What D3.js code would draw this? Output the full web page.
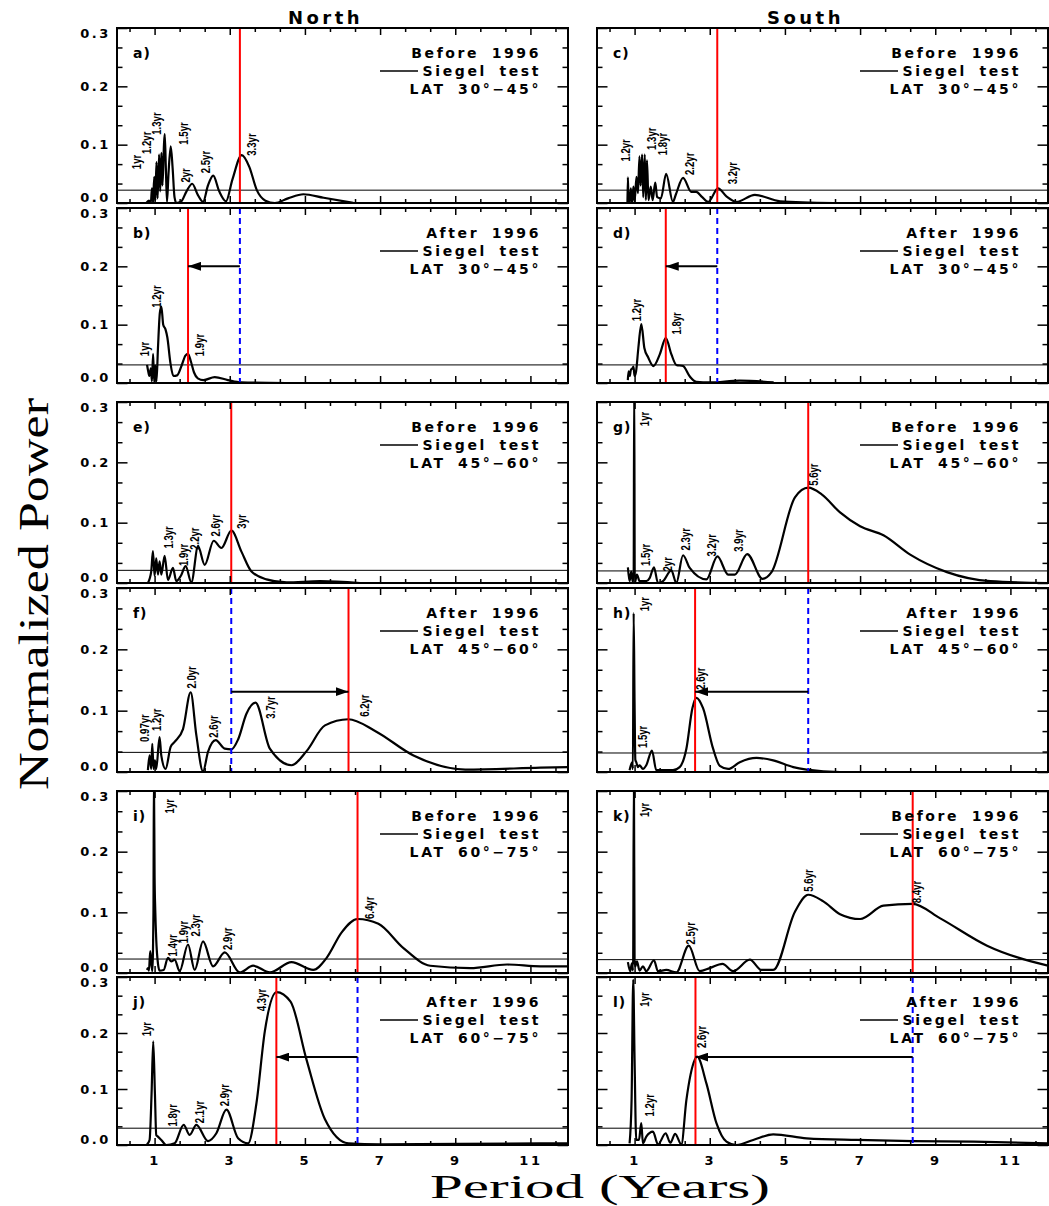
<!DOCTYPE html>
<html>
<head>
<meta charset="utf-8">
<script src="https://cdnjs.cloudflare.com/ajax/libs/d3/7.8.5/d3.min.js"></script>
<style>
  body { margin: 0; background: #fff; }
  svg text { font-family: "DejaVu Sans", "Liberation Sans", sans-serif; font-weight: bold; fill: #000; }
  .peak { font-family: "Liberation Sans", Arial, sans-serif !important; font-size: 12px; }
  .big { font-family: "Liberation Serif", "DejaVu Serif", serif !important; font-weight: normal !important; }
</style>
</head>
<body>
<svg id="chart" width="1049" height="1206"></svg>
<script>
// ---------- data: period (years) vs normalized power ----------
const panelLetters = ["a", "b", "c", "d", "e", "f", "g", "h", "i", "j", "k", "l"];
const eraLabel = ["Before 1996", "After 1996", "Before 1996", "After 1996",
                  "Before 1996", "After 1996", "Before 1996", "After 1996",
                  "Before 1996", "After 1996", "Before 1996", "After 1996"];
const latLabel = ["LAT 30°−45°", "LAT 30°−45°", "LAT 30°−45°", "LAT 30°−45°",
                  "LAT 45°−60°", "LAT 45°−60°", "LAT 45°−60°", "LAT 45°−60°",
                  "LAT 60°−75°", "LAT 60°−75°", "LAT 60°−75°", "LAT 60°−75°"];
// significance level (thin horizontal line)
const significance = [0.022, 0.031, 0.022, 0.031, 0.021, 0.032, 0.020, 0.031, 0.023, 0.030, 0.022, 0.030];
// dominant period (red line), period before 1996 (blue dashed), arrow height
const dominantPeriod = [3.27, 1.89, 3.2, 1.83, 3.04, 6.16, 5.62, 2.61, 6.4, 4.24, 8.4, 2.62];
const previousPeriod = [null, 3.27, null, 3.2, null, 3.04, null, 5.62, null, 6.4, null, 8.4];
const shiftArrowAt = [null, 0.2, null, 0.2, null, 0.131, null, 0.131, null, 0.157, null, 0.157];

const spectrumA = [[0.78,0],[0.85,0.004],[0.9,0.0],[0.93,0.025],[0.96,0.0],[0.99,0.045],[1.02,0.004],[1.05,0.07],[1.08,0.008],[1.12,0.083],[1.15,0.02],[1.18,0.086],[1.21,0.03],[1.25,0.1],[1.27,0.118],[1.3,0.06],[1.33,0.002],[1.37,0.05],[1.43,0.097],[1.48,0.06],[1.53,0.01],[1.58,0],[1.7,0.002],[1.85,0.02],[2.0,0.033],[2.15,0.014],[2.29,0.002],[2.42,0.03],[2.56,0.047],[2.72,0.02],[2.9,0.003],[3.07,0.04],[3.32,0.082],[3.52,0.062],[3.72,0.022],[3.95,0.004],[4.2,0],[4.55,0.008],[4.96,0.015],[5.5,0.009],[6.3,0.0]];
const spectrumB = [[0.8,0.031],[0.83,0.02],[0.86,0.012],[0.9,0.025],[0.93,0.003],[0.96,0.05],[0.99,0.002],[1.02,0.03],[1.05,0.003],[1.09,0.06],[1.14,0.12],[1.18,0.131],[1.23,0.1],[1.29,0.092],[1.34,0.078],[1.42,0.035],[1.5,0.012],[1.6,0.013],[1.72,0.03],[1.82,0.047],[1.89,0.05],[1.97,0.036],[2.05,0.018],[2.15,0.008],[2.3,0.005],[2.6,0.01],[2.95,0.005],[3.3,0.001],[4.5,0]];
const spectrumC = [[0.81,0.0],[0.822,0.044],[0.84,0.0],[0.87,0.0],[0.9,0.025],[0.93,0.0],[0.97,0.028],[1.0,0.002],[1.05,0.045],[1.09,0.017],[1.13,0.08],[1.16,0.03],[1.2,0.083],[1.23,0.01],[1.27,0.083],[1.3,0.005],[1.33,0.073],[1.37,0.005],[1.43,0.028],[1.48,0.005],[1.55,0.035],[1.6,0.01],[1.7,0.008],[1.84,0.05],[2.02,0.002],[2.1,0.015],[2.29,0.043],[2.51,0.019],[2.64,0.019],[2.8,0.01],[2.96,0.002],[3.22,0.025],[3.45,0.011],[3.71,0.002],[4.2,0.014],[4.87,0.003],[6.3,0.0]];
const spectrumD = [[0.82,0.005],[0.84,0.02],[0.87,0.012],[0.9,0.022],[0.94,0.025],[0.97,0.028],[1.0,0.012],[1.04,0.02],[1.1,0.06],[1.18,0.101],[1.26,0.06],[1.36,0.044],[1.5,0.029],[1.67,0.049],[1.83,0.077],[1.98,0.049],[2.11,0.031],[2.29,0.029],[2.47,0.011],[2.64,0.002],[3.0,0.001],[3.8,0.004],[4.7,0.001]];
const spectrumE = [[0.82,0],[0.91,0.019],[0.956,0.053],[1.0,0.012],[1.044,0.041],[1.09,0.014],[1.133,0.036],[1.18,0.014],[1.267,0.045],[1.356,0.005],[1.489,0.025],[1.578,0.003],[1.7,0.012],[1.827,0.028],[1.978,0.001],[2.156,0.061],[2.333,0.03],[2.573,0.07],[2.778,0.058],[3.044,0.087],[3.311,0.052],[3.578,0.019],[3.978,0.006],[4.511,0.001],[5.4,0.003],[6.467,0]];
const spectrumF = [[0.822,0.003],[0.867,0.027],[0.91,0.005],[0.938,0.046],[0.973,0.005],[1.009,0.019],[1.044,0.005],[1.133,0.057],[1.178,0.027],[1.293,0.005],[1.427,0.041],[1.533,0.049],[1.756,0.07],[1.96,0.13],[2.111,0.06],[2.289,0.001],[2.422,0.033],[2.627,0.052],[2.867,0.038],[3.044,0.037],[3.222,0.053],[3.444,0.095],[3.684,0.113],[4.067,0.038],[4.644,0.011],[5.044,0.034],[5.533,0.076],[6.156,0.086],[6.867,0.067],[7.889,0.027],[9.267,0.004],[11.267,0.007],[12,0.008]];
const spectrumG = [[0.822,0.026],[0.867,0.003],[0.911,0.019],[0.95,0.003],[0.975,0.002],[0.99,0.33],[1.005,0.0],[1.062,0.014],[1.133,0.003],[1.311,0.003],[1.4,0.008],[1.516,0.026],[1.622,0],[1.756,0.003],[1.978,0.021],[2.111,0],[2.289,0.046],[2.467,0.025],[2.911,0.006],[3.204,0.044],[3.489,0.014],[3.667,0.014],[3.996,0.048],[4.404,0.007],[4.644,0.018],[5.267,0.142],[5.622,0.158],[5.978,0.147],[6.467,0.117],[7.0,0.094],[7.622,0.079],[8.333,0.047],[9.311,0.018],[10.467,0.003],[12,0]];
const spectrumH = [[0.867,0.003],[0.938,0.016],[0.955,0.005],[0.975,0.259],[1.0,0.11],[1.02,0.02],[1.044,0.016],[1.089,0.008],[1.133,0.011],[1.222,0.005],[1.311,0.011],[1.462,0.035],[1.578,0.003],[1.756,0.003],[2.022,0.003],[2.2,0.008],[2.378,0.038],[2.538,0.104],[2.644,0.121],[2.822,0.104],[3.089,0.038],[3.267,0.01],[3.489,0.005],[3.8,0.016],[4.244,0.023],[4.689,0.019],[5.222,0.008],[5.578,0.004],[6.467,0],[12,0]];
const spectrumI = [[0.796,0.005],[0.822,0.008],[0.85,0.004],[0.884,0.036],[0.938,0.003],[0.97,0.1],[0.982,0.33],[1.0,0.16],[1.018,0.104],[1.044,0.055],[1.089,0.016],[1.133,0.004],[1.24,0.005],[1.356,0.025],[1.444,0.019],[1.533,0.022],[1.667,0.003],[1.889,0.047],[2.067,0.005],[2.289,0.052],[2.556,0.011],[2.867,0.034],[3.267,0.001],[3.622,0.012],[4.067,0.001],[4.644,0.018],[5.222,0.005],[5.578,0.025],[5.978,0.067],[6.404,0.089],[6.956,0.081],[7.622,0.041],[8.333,0.012],[9.4,0.008],[10.378,0.014],[11.267,0.011],[12,0.011]];
const spectrumJ = [[0.796,0.001],[0.867,0.009],[0.92,0.092],[0.964,0.185],[1.009,0.092],[1.044,0.018],[1.089,0.015],[1.178,0.009],[1.311,0],[1.533,0.003],[1.773,0.036],[1.933,0.018],[2.111,0.036],[2.422,0.007],[2.644,0.021],[2.911,0.063],[3.222,0.012],[3.489,0.003],[3.711,0.075],[3.933,0.203],[4.244,0.273],[4.618,0.256],[5.044,0.152],[5.533,0.046],[6.156,0.003],[7.0,0.001],[11.267,0.003],[12,0.003]];
const spectrumK = [[0.822,0.018],[0.884,0.003],[0.929,0.016],[0.96,0.004],[0.982,0.33],[1.0,0.02],[1.018,0.011],[1.062,0.019],[1.133,0.004],[1.222,0.011],[1.311,0.003],[1.516,0.021],[1.622,0.003],[1.844,0.005],[2.111,0.001],[2.44,0.045],[2.733,0.003],[3.0,0.008],[3.338,0.015],[3.622,0.003],[4.067,0.022],[4.378,0.005],[4.689,0.005],[5.267,0.101],[5.622,0.129],[6.022,0.118],[6.467,0.097],[7.0,0.089],[7.622,0.111],[8.396,0.114],[9.133,0.09],[10.378,0.045],[12,0.012]];
const spectrumL = [[0.867,0.003],[0.92,0.08],[0.964,0.295],[1.0,0.152],[1.044,0.009],[1.116,0.009],[1.178,0.039],[1.222,0.003],[1.311,0.015],[1.489,0.024],[1.622,0.001],[1.827,0.021],[1.95,0.004],[2.08,0.02],[2.244,0.001],[2.378,0.08],[2.6,0.152],[2.662,0.158],[2.911,0.11],[3.178,0.039],[3.444,0.006],[3.711,0],[4.156,0.009],[4.689,0.019],[5.578,0.012],[6.911,0.009],[8.396,0.007],[10.022,0.006],[12,0.003]];
const spectra = [spectrumA, spectrumB, spectrumC, spectrumD, spectrumE, spectrumF,
                 spectrumG, spectrumH, spectrumI, spectrumJ, spectrumK, spectrumL];

// peak annotations: [text, period, power] (anchor = foot of rotated label)
const peakLabels = [
  [["1yr",0.53,0.058],["1.2yr",0.8,0.084],["1.3yr",1.04,0.117],["1.5yr",1.76,0.1],["2yr",1.83,0.035],["2.5yr",2.35,0.051],["3.3yr",3.58,0.081]],
  [["1yr",0.73,0.046],["1.2yr",1.04,0.129],["1.9yr",2.2,0.046]],
  [["1.2yr",0.76,0.071],["1.3yr",1.44,0.091],["1.8yr",1.74,0.082],["2.2yr",2.47,0.048],["3.2yr",3.6,0.032]],
  [["1.2yr",1.04,0.106],["1.8yr",2.13,0.083]],
  [["1.3yr",1.36,0.057],["1.9yr",1.77,0.028],["2.2yr",2.07,0.055],["2.6yr",2.63,0.077],["3yr",3.31,0.09]],
  [["0.97yr",0.73,0.049],["1.2yr",1.04,0.067],["2.0yr",1.98,0.136],["2.6yr",2.57,0.056],["3.7yr",4.08,0.087],["6.2yr",6.58,0.09]],
  [["1yr",1.27,0.26],["1.5yr",1.29,0.028],["2yr",1.89,0.019],["2.3yr",2.35,0.054],["3.2yr",3.04,0.044],["3.9yr",3.76,0.052],["5.6yr",5.76,0.161]],
  [["1yr",1.27,0.262],["1.5yr",1.22,0.039],["2.6yr",2.75,0.134]],
  [["1yr",1.4,0.263],["1.4yr",1.49,0.027],["1.9yr",1.76,0.049],["2.3yr",2.08,0.06],["2.9yr",2.94,0.038],["6.4yr",6.72,0.089]],
  [["1yr",0.8,0.194],["1.8yr",1.49,0.033],["2.1yr",2.2,0.039],["2.9yr",2.85,0.069],["4.3yr",3.84,0.239]],
  [["1yr",1.27,0.257],["2.5yr",2.48,0.047],["5.6yr",5.62,0.134],["8.4yr",8.51,0.115]],
  [["1yr",1.27,0.247],["1.2yr",1.4,0.051],["2.6yr",2.78,0.173]]
];

const xMajor = [1, 3, 5, 7, 9, 11];
const yMajor = [0, 0.1, 0.2, 0.3];
const columnTitles = ["North", "South"];

// ---------- layout ----------
const colX = [[117, 568], [597, 1048]];
const rowY = [[28, 203], [208, 383], [402, 583], [588, 772], [791, 973], [977, 1145]];
const panelCell = [[0,0],[0,1],[1,0],[1,1],[0,2],[0,3],[1,2],[1,3],[0,4],[0,5],[1,4],[1,5]];

const svg = d3.select("#chart");
const defs = svg.append("defs");
defs.append("marker")
  .attr("id", "head")
  .attr("viewBox", "0 0 10 10")
  .attr("refX", 10).attr("refY", 5)
  .attr("markerWidth", 13).attr("markerHeight", 9)
  .attr("markerUnits", "userSpaceOnUse")
  .attr("preserveAspectRatio", "none")
  .attr("orient", "auto")
  .append("path").attr("d", "M0,0L10,5L0,10Z").attr("fill", "#000");

const xMinor = d3.range(1 / 3, 12, 2 / 3).filter(v => Math.abs(v - Math.round(v)) > 0.01);
const yMinor = d3.range(0, 0.3001, 0.1 / 3).filter(v => Math.abs(v * 10 - Math.round(v * 10)) > 0.01);

const line = d3.line().curve(d3.curveMonotoneX);

panelLetters.forEach((id, i) => {
  const [col, row] = panelCell[i];
  const [x0, x1] = colX[col];
  const [y0, y1] = rowY[row];
  const x = d3.scaleLinear().domain([0, 12]).range([x0, x1]);
  const y = d3.scaleLinear().domain([0, 0.3]).range([y1, y0]);
  const g = svg.append("g").attr("class", "panel-" + id);

  defs.append("clipPath").attr("id", "clip-" + id)
    .append("rect").attr("x", x0).attr("y", y0).attr("width", x1 - x0).attr("height", y1 - y0);

  const plot = g.append("g").attr("clip-path", `url(#clip-${id})`);

  // significance level
  plot.append("line")
    .attr("x1", x0).attr("x2", x1)
    .attr("y1", y(significance[i])).attr("y2", y(significance[i]))
    .attr("stroke", "#000").attr("stroke-width", 1);

  // spectrum
  plot.append("path")
    .attr("d", line(spectra[i].map(d => [x(d[0]), y(d[1])])))
    .attr("fill", "none").attr("stroke", "#000").attr("stroke-width", 2.2)
    .attr("stroke-linejoin", "round");

  // dominant period
  plot.append("line")
    .attr("x1", x(dominantPeriod[i])).attr("x2", x(dominantPeriod[i]))
    .attr("y1", y0).attr("y2", y1)
    .attr("stroke", "#ff0000").attr("stroke-width", 2);

  if (previousPeriod[i] != null) {
    plot.append("line")
      .attr("x1", x(previousPeriod[i])).attr("x2", x(previousPeriod[i]))
      .attr("y1", y0).attr("y2", y1)
      .attr("stroke", "#0000ff").attr("stroke-width", 2)
      .attr("stroke-dasharray", "6,4");
    plot.append("line")
      .attr("x1", x(previousPeriod[i])).attr("x2", x(dominantPeriod[i]))
      .attr("y1", y(shiftArrowAt[i])).attr("y2", y(shiftArrowAt[i]))
      .attr("stroke", "#000").attr("stroke-width", 2)
      .attr("marker-end", "url(#head)");
  }

  // peak labels (condensed, reading upwards)
  g.selectAll("text.peak").data(peakLabels[i]).join("text")
    .attr("class", "peak")
    .attr("transform", d => `translate(${x(d[1])},${y(d[2])}) rotate(-90) scale(0.8,1)`)
    .attr("dominant-baseline", "central")
    .text(d => d[0]);

  // axes (ticks inward on all four sides)
  const styleAxis = a => {
    a.select(".domain").remove();
    a.selectAll(".tick line").attr("stroke", "#000").attr("stroke-width", 1.5);
    a.selectAll("text").attr("font-family", null).attr("font-size", 13)
      .style("letter-spacing", "2.6px");
  };
  g.append("g").attr("transform", `translate(${x0},0)`)
    .call(d3.axisLeft(y).tickValues(yMajor).tickSize(-10.5).tickPadding(6)
      .tickFormat(col === 0 ? d3.format(".1f") : () => ""))
    .call(styleAxis)
    .call(a => a.selectAll(".tick text")
      .attr("y", d => d === 0 ? -5.5 : d === 0.3 ? 5 : 0));
  g.append("g").attr("transform", `translate(${x0},0)`)
    .call(d3.axisLeft(y).tickValues(yMinor).tickSize(-5.5).tickFormat(() => ""))
    .call(styleAxis);
  g.append("g").attr("transform", `translate(${x1},0)`)
    .call(d3.axisRight(y).tickValues(yMajor).tickSize(-10.5).tickFormat(() => ""))
    .call(styleAxis);
  g.append("g").attr("transform", `translate(${x1},0)`)
    .call(d3.axisRight(y).tickValues(yMinor).tickSize(-5.5).tickFormat(() => ""))
    .call(styleAxis);
  g.append("g").attr("transform", `translate(0,${y0})`)
    .call(d3.axisTop(x).tickValues(xMajor).tickSize(-7).tickFormat(() => ""))
    .call(styleAxis);
  g.append("g").attr("transform", `translate(0,${y0})`)
    .call(d3.axisTop(x).tickValues(xMinor).tickSize(-4).tickFormat(() => ""))
    .call(styleAxis);
  g.append("g").attr("transform", `translate(0,${y1})`)
    .call(d3.axisBottom(x).tickValues(xMajor).tickSize(-7).tickPadding(11)
      .tickFormat(row === 5 ? d3.format("d") : () => ""))
    .call(styleAxis);
  g.append("g").attr("transform", `translate(0,${y1})`)
    .call(d3.axisBottom(x).tickValues(xMinor).tickSize(-4).tickFormat(() => ""))
    .call(styleAxis);

  // frame
  g.append("rect")
    .attr("x", x0).attr("y", y0).attr("width", x1 - x0).attr("height", y1 - y0)
    .attr("fill", "none").attr("stroke", "#000").attr("stroke-width", 2);

  // panel letter and legend
  g.append("text").attr("x", x0 + 16).attr("y", y0 + 25).attr("dy", "0.35em")
    .attr("font-size", 14).style("letter-spacing", "1px").text(id + ")");
  const tx = x1 - 27;
  const legend = g.append("g").attr("font-size", 14)
    .style("letter-spacing", "2.6px").style("word-spacing", "5px");
  legend.append("text").attr("x", tx).attr("y", y0 + 25).attr("dy", "0.35em")
    .attr("text-anchor", "end").text(eraLabel[i]);
  legend.append("text").attr("x", tx).attr("y", y0 + 43).attr("dy", "0.35em")
    .attr("text-anchor", "end").text("Siegel test");
  legend.append("text").attr("x", tx).attr("y", y0 + 61).attr("dy", "0.35em")
    .attr("text-anchor", "end").text(latLabel[i]);
  g.append("line")
    .attr("x1", x1 - 188).attr("x2", x1 - 150)
    .attr("y1", y0 + 43).attr("y2", y0 + 43)
    .attr("stroke", "#000").attr("stroke-width", 1.5);
});

// column titles
svg.selectAll("text.coltitle").data(columnTitles).join("text")
  .attr("class", "coltitle")
  .attr("x", (d, i) => (colX[i][0] + colX[i][1]) / 2 - 17)
  .attr("y", 18).attr("dy", "0.35em")
  .attr("text-anchor", "middle").attr("font-size", 18)
  .style("letter-spacing", "3.5px")
  .text(d => d);

// axis titles
svg.append("text").attr("class", "big")
  .attr("transform", "translate(48,594) rotate(-90)")
  .attr("text-anchor", "middle").attr("font-size", 43)
  .attr("textLength", 392).attr("lengthAdjust", "spacingAndGlyphs")
  .text("Normalized Power");
svg.append("text").attr("class", "big")
  .attr("x", 600).attr("y", 1198)
  .attr("text-anchor", "middle").attr("font-size", 33)
  .attr("textLength", 340).attr("lengthAdjust", "spacingAndGlyphs")
  .text("Period (Years)");
</script>
</body>
</html>
